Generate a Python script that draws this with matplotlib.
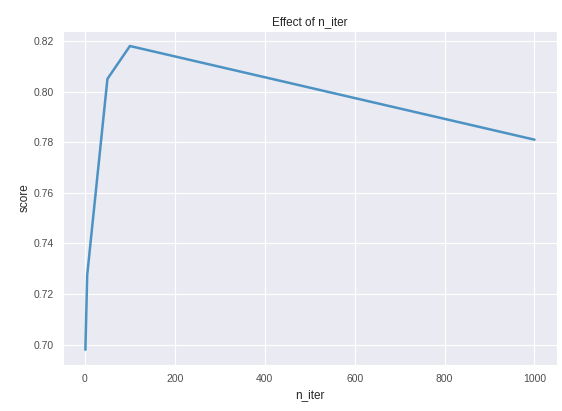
import matplotlib
matplotlib.use('Agg')
import matplotlib.pyplot as plt
import seaborn as sns

n_iter = [1, 5, 50, 100, 1000]
scores = [0.698, 0.7275, 0.805, 0.818, 0.781]

sns.set_style('darkgrid')
plt.rcParams['font.family'] = ['Liberation Sans', 'DejaVu Sans']
plt.rcParams['xtick.major.size'] = 3
plt.rcParams['ytick.major.size'] = 3
plt.rcParams['xtick.color'] = '.5'
plt.rcParams['ytick.color'] = '.5'

fig = plt.figure(figsize=(5.62, 4.11), dpi=100)
ax = fig.add_axes([0.112, 0.112, 0.879, 0.813])
ax.plot(n_iter, scores, color='#4c92c3', linewidth=1.8)
ax.set_title('Effect of n_iter', fontsize=8.5, color='.15', pad=4)
ax.set_xlabel('n_iter', fontsize=8.5, color='.15')
ax.set_ylabel('score', fontsize=8.5, color='.15', labelpad=2)
ax.tick_params(labelsize=7.5, labelcolor='.3')
ax.set_yticks([0.70, 0.72, 0.74, 0.76, 0.78, 0.80, 0.82])

fig.savefig('out.png', dpi=100)
